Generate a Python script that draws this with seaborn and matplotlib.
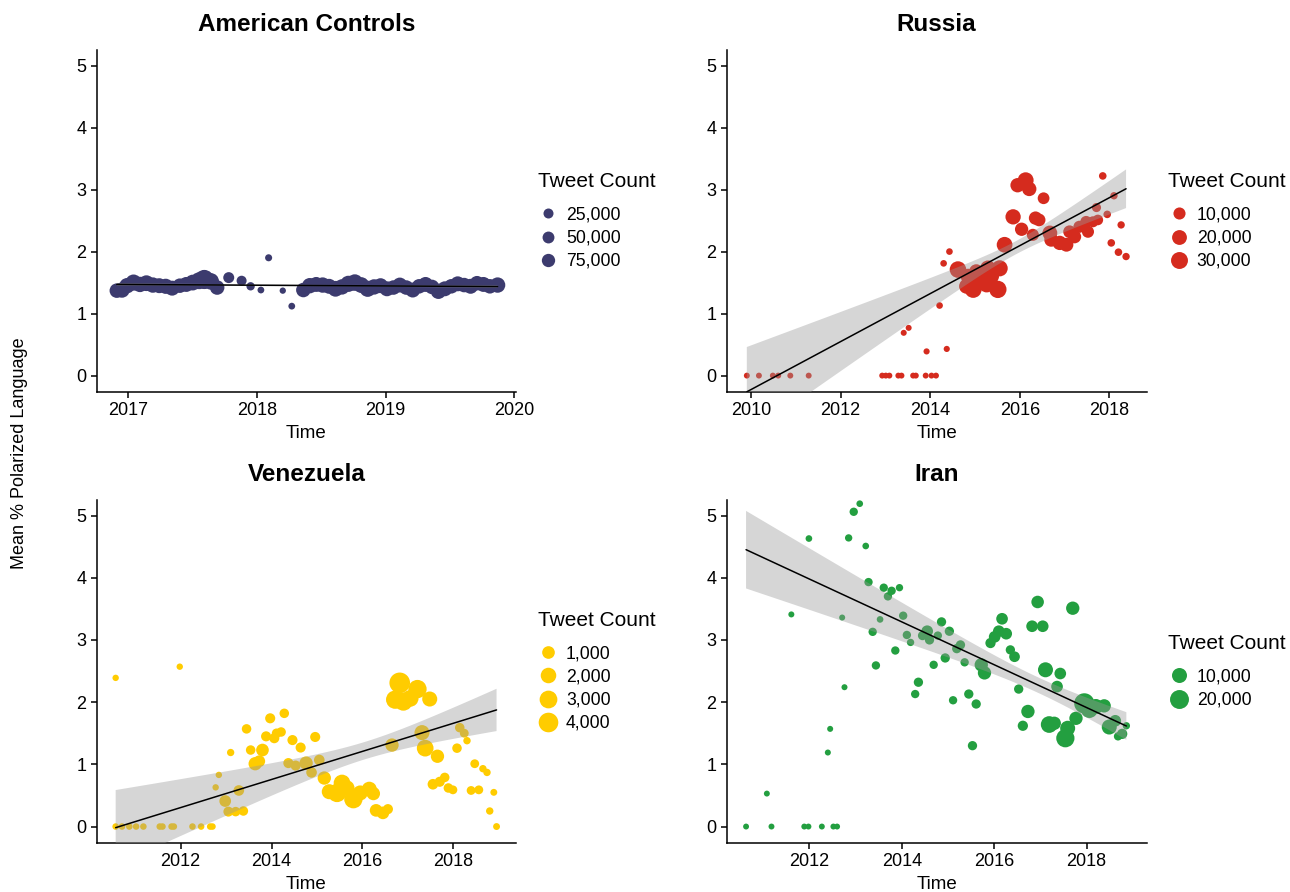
import numpy as np
import pandas as pd
import matplotlib
matplotlib.use("Agg")
import matplotlib.pyplot as plt
import seaborn as sns
from matplotlib.lines import Line2D

sns.set_theme(style="ticks")
plt.rcParams['font.family'] = ['Liberation Sans', 'DejaVu Sans']
plt.rcParams['text.color'] = 'black'
plt.rcParams['axes.labelcolor'] = 'black'

try:
    from scipy import stats as _st
    def tq(df):
        return _st.t.ppf(0.975, df)
except Exception:
    def tq(df):
        return 1.96 + 2.4 / df

# ---------------- data ----------------
am_time = [2016.91, 2016.95, 2016.99, 2017.04, 2017.09, 2017.14, 2017.19, 2017.24, 2017.29, 2017.34,
           2017.40, 2017.45, 2017.50, 2017.55, 2017.59, 2017.64, 2017.69, 2017.78, 2017.88, 2017.95,
           2018.03, 2018.09, 2018.20, 2018.27,
           2018.36, 2018.41, 2018.46, 2018.51, 2018.56, 2018.61, 2018.66, 2018.71, 2018.76, 2018.81,
           2018.86, 2018.91, 2018.96, 2019.01, 2019.06, 2019.11, 2019.16, 2019.21, 2019.26, 2019.31,
           2019.36, 2019.41, 2019.46, 2019.51, 2019.56, 2019.61, 2019.66, 2019.71, 2019.76, 2019.81,
           2019.87]
am_value = [1.37, 1.38, 1.45, 1.50, 1.47, 1.49, 1.46, 1.45, 1.44, 1.41,
            1.45, 1.47, 1.50, 1.53, 1.55, 1.52, 1.42, 1.58, 1.53, 1.44,
            1.38, 1.90, 1.37, 1.12,
            1.38, 1.45, 1.47, 1.46, 1.44, 1.40, 1.43, 1.48, 1.50, 1.46,
            1.40, 1.43, 1.45, 1.40, 1.42, 1.46, 1.42, 1.38, 1.44, 1.47,
            1.43, 1.36, 1.40, 1.44, 1.48, 1.46, 1.44, 1.49, 1.47, 1.44,
            1.46]
am_count = [100000, 120000, 120000, 140000, 120000, 130000, 120000, 110000, 115000, 110000,
            100000, 110000, 130000, 160000, 230000, 150000, 100000, 37000, 25000, 10000,
            2000, 3000, 800, 2000,
            100000, 120000, 110000, 120000, 110000, 130000, 120000, 140000, 150000, 130000,
            140000, 120000, 110000, 110000, 100000, 110000, 100000, 110000, 100000, 110000,
            100000, 120000, 110000, 100000, 110000, 100000, 110000, 100000, 110000, 100000,
            120000]

ru_time = [2009.91, 2010.18, 2010.49, 2010.61, 2010.88, 2011.29, 2012.93, 2013.01, 2013.09, 2013.29,
           2013.36, 2013.62, 2013.68, 2013.90, 2014.03, 2014.13,
           2013.41, 2013.52, 2013.92, 2014.37, 2014.21, 2014.30, 2014.43,
           2014.62, 2014.81, 2014.85, 2014.96, 2015.03, 2015.14, 2015.26, 2015.29, 2015.37, 2015.51,
           2015.55, 2015.66, 2015.85, 2015.95, 2016.04, 2016.13, 2016.21, 2016.29, 2016.35, 2016.43,
           2016.53, 2016.67, 2016.70, 2016.89, 2017.04, 2017.11, 2017.22, 2017.33, 2017.48, 2017.52,
           2017.63, 2017.74, 2017.71, 2017.85, 2017.95, 2018.10, 2018.04, 2018.20, 2018.26, 2018.37]
ru_value = [0, 0, 0, 0, 0, 0, 0, 0, 0, 0,
            0, 0, 0, 0, 0, 0,
            0.69, 0.77, 0.39, 0.43, 1.13, 1.81, 2.00,
            1.71, 1.44, 1.60, 1.39, 1.68, 1.55, 1.47, 1.73, 1.60, 1.39,
            1.73, 2.11, 2.56, 3.07, 2.36, 3.15, 3.01, 2.27, 2.54, 2.51,
            2.86, 2.30, 2.19, 2.14, 2.11, 2.32, 2.24, 2.40, 2.48, 2.32,
            2.48, 2.51, 2.71, 3.22, 2.60, 2.90, 2.14, 1.99, 2.43, 1.92]
ru_count = [40, 40, 40, 40, 40, 40, 40, 40, 40, 40,
            40, 40, 40, 40, 40, 40,
            60, 60, 100, 100, 300, 300, 300,
            28000, 20000, 22000, 30000, 18000, 22000, 25000, 24000, 20000, 32000,
            26000, 24000, 22000, 18000, 14000, 25000, 18000, 10000, 14000, 12000,
            9000, 20000, 16000, 18000, 16000, 12000, 14000, 10000, 9000, 10000,
            7000, 6000, 3000, 1000, 1000, 800, 1000, 1000, 800, 800]

ve_time = [2010.57, 2011.98,
           2010.57, 2010.71, 2010.87, 2011.02, 2011.18, 2011.54, 2011.60, 2011.80, 2011.85, 2012.26,
           2012.45, 2012.65, 2012.70,
           2012.77, 2012.84, 2013.10, 2012.98, 2013.05, 2013.28, 2013.21, 2013.38, 2013.45, 2013.54,
           2013.64, 2013.73, 2013.80, 2013.88, 2013.97, 2014.06, 2014.11, 2014.21, 2014.28, 2014.37,
           2014.46, 2014.53, 2014.64, 2014.76, 2014.88, 2014.96, 2015.05, 2015.16, 2015.27, 2015.44,
           2015.55, 2015.66, 2015.80, 2015.95, 2016.15, 2016.24, 2016.30, 2016.45, 2016.56, 2016.65,
           2016.72, 2016.82, 2016.90, 2017.05, 2017.21, 2017.48, 2017.31, 2017.38, 2017.65, 2017.55,
           2017.70, 2017.81, 2017.89, 2017.99, 2018.08, 2018.14, 2018.24, 2018.30, 2018.39, 2018.47,
           2018.56, 2018.65, 2018.74, 2018.80, 2018.89, 2018.95]
ve_value = [2.39, 2.57,
            0, 0, 0, 0, 0, 0, 0, 0, 0, 0,
            0, 0, 0,
            0.63, 0.83, 1.19, 0.41, 0.24, 0.58, 0.24, 0.25, 1.57, 1.23,
            1.01, 1.05, 1.23, 1.45, 1.74, 1.42, 1.50, 1.52, 1.82, 1.02,
            1.39, 0.98, 1.27, 1.02, 0.87, 1.44, 1.07, 0.78, 0.56, 0.54,
            0.70, 0.62, 0.44, 0.54, 0.60, 0.53, 0.26, 0.22, 0.28, 1.31,
            2.04, 2.31, 2.01, 2.06, 2.21, 2.05, 1.51, 1.26, 1.13, 0.68,
            0.72, 0.79, 0.62, 0.59, 1.26, 1.59, 1.50, 1.38, 0.58, 1.01,
            0.59, 0.93, 0.87, 0.25, 0.55, 0.00]
ve_count = [10, 10,
            15, 15, 15, 15, 15, 15, 15, 15, 15, 15,
            15, 15, 15,
            10, 10, 55, 740, 380, 500, 300, 300, 300, 300,
            1200, 750, 1000, 400, 400, 400, 300, 300, 300, 400,
            400, 400, 400, 1200, 500, 400, 500, 1200, 1800, 3300,
            2500, 1800, 3300, 1800, 1800, 1200, 1000, 1000, 400, 1200,
            3300, 4600, 3300, 2500, 3300, 1800, 1800, 2500, 1200, 500,
            400, 300, 300, 200, 300, 300, 200, 60, 200, 200,
            200, 60, 60, 60, 30, 30]

ir_time = [2010.63, 2011.08, 2011.18, 2011.89, 2011.98, 2012.27, 2012.52, 2012.60,
           2011.61, 2011.99, 2012.40, 2012.45, 2012.76, 2012.71, 2012.85, 2012.96, 2013.09, 2013.22,
           2013.28, 2013.37, 2013.44, 2013.53, 2013.61, 2013.70, 2013.78, 2013.95, 2013.86, 2014.03,
           2014.11, 2014.19, 2014.29, 2014.36, 2014.45, 2014.55, 2014.60, 2014.69, 2014.78, 2014.86,
           2014.94, 2015.03, 2015.11, 2015.19, 2015.27, 2015.36, 2015.45, 2015.53, 2015.61, 2015.72,
           2015.79, 2015.92, 2016.01, 2016.10, 2016.17, 2016.26, 2016.35, 2016.44, 2016.53, 2016.62,
           2016.73, 2016.82, 2016.94, 2017.05, 2017.11, 2017.19, 2017.30, 2017.36, 2017.43, 2017.54,
           2017.59, 2017.70, 2017.77, 2017.95, 2018.06, 2018.20, 2018.38, 2018.49, 2018.62, 2018.68,
           2018.77, 2018.86]
ir_value = [0, 0.53, 0, 0, 0, 0, 0, 0,
            3.41, 4.63, 1.19, 1.57, 2.24, 3.36, 4.64, 5.06, 5.19, 4.51,
            3.93, 3.13, 2.59, 3.33, 3.84, 3.70, 3.79, 3.84, 2.83, 3.39,
            3.08, 2.96, 2.13, 2.32, 3.07, 3.14, 3.00, 2.60, 3.07, 3.29,
            2.71, 3.14, 2.03, 2.86, 2.92, 2.64, 2.13, 1.30, 1.97, 2.60,
            2.47, 2.95, 3.05, 3.14, 3.34, 3.10, 2.84, 2.73, 2.21, 1.62,
            1.85, 3.22, 3.61, 3.22, 2.52, 1.64, 1.66, 2.25, 2.46, 1.42,
            1.58, 3.51, 1.74, 1.98, 1.88, 1.93, 1.94, 1.60, 1.70, 1.45,
            1.49, 1.62]
ir_count = [20, 20, 20, 20, 20, 20, 20, 20,
            30, 150, 30, 30, 30, 30, 380, 900, 150, 150,
            900, 900, 900, 150, 900, 900, 900, 380, 900, 900,
            900, 380, 900, 1600, 1600, 4200, 1600, 900, 900, 1600,
            1600, 1600, 900, 1600, 1600, 900, 1600, 1600, 1600, 6800,
            6800, 2500, 4200, 4200, 4200, 4200, 1600, 3000, 1600, 2500,
            6800, 4200, 5500, 4200, 10000, 13900, 6800, 4200, 4200, 18000,
            10000, 6800, 6800, 24000, 14000, 10000, 6800, 10000, 4200, 900,
            2500, 380]

panels = [
    dict(title="American Controls", t=am_time, v=am_value, c=am_count, color="#3C3B6E",
         r0=5.5, k=0.0285, breaks=[25000, 50000, 75000], xt=[2017, 2018, 2019, 2020],
         xlim=(2016.754, 2020.013), rect=[0.075, 0.5605, 0.325, 0.3834]),
    dict(title="Russia", t=ru_time, v=ru_value, c=ru_count, color="#D52B1E",
         r0=5.5, k=0.066, breaks=[10000, 20000, 30000], xt=[2010, 2012, 2014, 2016, 2018],
         xlim=(2009.46, 2018.83), rect=[0.5633, 0.5605, 0.3256, 0.3834]),
    dict(title="Venezuela", t=ve_time, v=ve_value, c=ve_count, color="#FFCC00",
         r0=5.7, k=0.22, breaks=[1000, 2000, 3000, 4000], xt=[2012, 2014, 2016, 2018],
         xlim=(2010.154, 2019.378), rect=[0.075, 0.0549, 0.325, 0.3846]),
    dict(title="Iran", t=ir_time, v=ir_value, c=ir_count, color="#239F40",
         r0=5.5, k=0.095, breaks=[10000, 20000], xt=[2012, 2014, 2016, 2018],
         xlim=(2010.21, 2019.30), rect=[0.5633, 0.0549, 0.3256, 0.3846]),
]

PX2PT = 72.0 / 100.0


def weighted_fit(x, y, w, n=80):
    """Weighted least squares line with 95% confidence band (like lm + predict)."""
    X = np.column_stack([np.ones_like(x), x])
    W = w / w.mean()
    XtWX = X.T @ (X * W[:, None])
    beta = np.linalg.solve(XtWX, X.T @ (W * y))
    resid = y - X @ beta
    dof = len(x) - 2
    sigma2 = np.sum(W * resid ** 2) / dof
    cov = sigma2 * np.linalg.inv(XtWX)
    grid = np.linspace(x.min(), x.max(), n)
    G = np.column_stack([np.ones_like(grid), grid])
    fit = G @ beta
    se = np.sqrt(np.einsum("ij,jk,ik->i", G, cov, G))
    q = tq(dof)
    return pd.DataFrame({"Time": grid, "fit": fit, "lo": fit - q * se, "hi": fit + q * se})


fig = plt.figure(figsize=(12.9, 8.92), dpi=100)
for p in panels:
    ax = fig.add_axes(p["rect"])
    df = pd.DataFrame({"Time": p["t"], "Polar": p["v"], "Count": p["c"]})
    df["area"] = ((p["r0"] + p["k"] * np.sqrt(df["Count"])) * PX2PT) ** 2
    sns.scatterplot(data=df, x="Time", y="Polar", size="area", sizes=(1, 2000),
                    size_norm=(1, 2000), color=p["color"], edgecolor="none", linewidth=0,
                    legend=False, ax=ax, zorder=2)
    fitdf = weighted_fit(df["Time"].to_numpy(float), df["Polar"].to_numpy(float),
                         df["Count"].to_numpy(float))
    ax.fill_between(fitdf["Time"], fitdf["lo"], fitdf["hi"], facecolor="#999999",
                    alpha=0.4, edgecolor="none", zorder=3)
    sns.lineplot(data=fitdf, x="Time", y="fit", color="black", lw=1.1, ax=ax, zorder=4)
    ax.set_xlim(*p["xlim"])
    ax.set_ylim(-0.265, 5.25)
    ax.set_xticks(p["xt"])
    ax.set_xticklabels([str(x) for x in p["xt"]])
    ax.set_yticks([0, 1, 2, 3, 4, 5])
    ax.set_xlabel("Time", fontsize=13.5, color="black", labelpad=4)
    ax.set_ylabel("")
    ax.set_title(p["title"], fontsize=17.5, fontweight="bold", pad=13.5, color="black")
    sns.despine(ax=ax)
    for s in ["left", "bottom"]:
        ax.spines[s].set_linewidth(1.1)
        ax.spines[s].set_color("black")
    ax.tick_params(length=4, width=1.1, labelsize=13, color="black", labelcolor="black")

    handles = [Line2D([], [], marker="o", ls="", color=p["color"], markeredgewidth=0,
                      markersize=(p["r0"] + p["k"] * np.sqrt(b)) * PX2PT) for b in p["breaks"]]
    labels = [f"{b:,}" for b in p["breaks"]]
    leg = ax.legend(handles, labels, title="Tweet Count", loc="center left",
                    bbox_to_anchor=(1.035, 0.5), frameon=False, fontsize=12.7,
                    title_fontsize=15, handletextpad=0.4, labelspacing=0.35,
                    borderaxespad=0, handlelength=1.2)
    leg._legend_box.align = "left"
    leg._legend_box.sep = 11

fig.text(20 / 1290, 1 - 453 / 892, "Mean % Polarized Language", rotation=90,
         ha="center", va="center", fontsize=13, color="black")

fig.savefig("out.png", dpi=100)
